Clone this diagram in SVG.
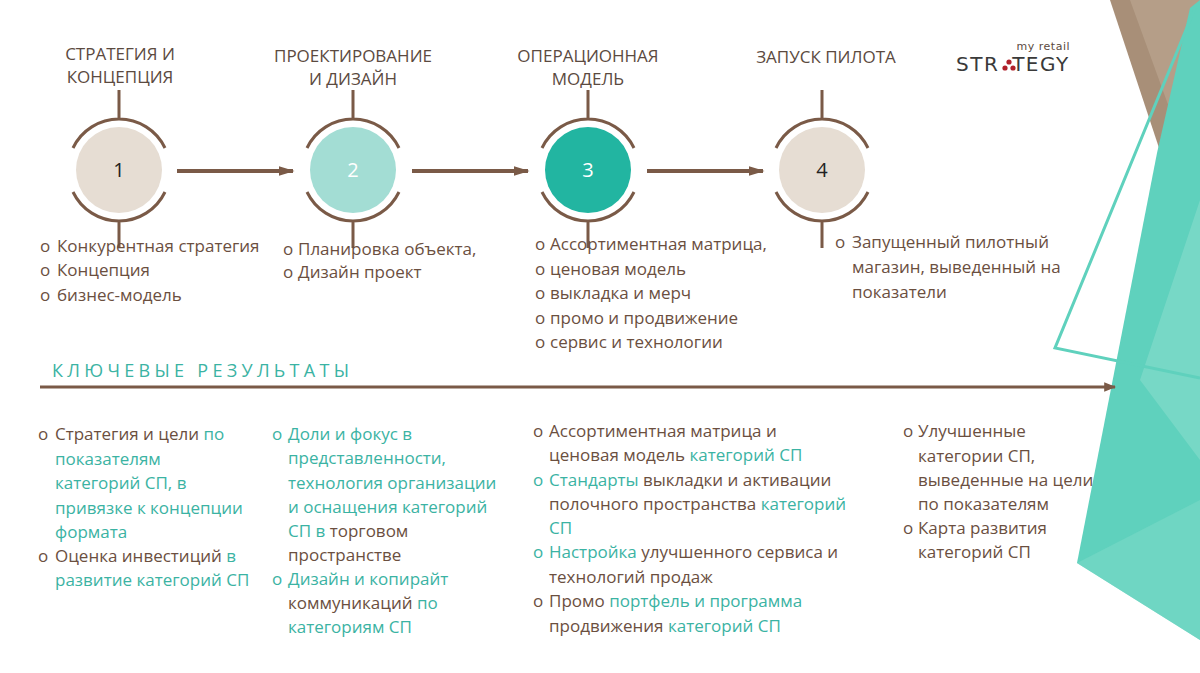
<svg xmlns="http://www.w3.org/2000/svg" width="1200" height="673" viewBox="0 0 1200 673">
<defs>
<style>
text{font-family:"Open Sans","Noto Sans",sans-serif;}
.h{font-size:17px;fill:#5b4a40;text-anchor:middle}
.b{font-size:17px;fill:#6b4f3f}
.t{fill:#3bb3a3}
.arc{fill:none;stroke:#7a5a47;stroke-width:3}
.conn{stroke:#7a5a47;stroke-width:4;fill:none}
</style>
<marker id="ah" viewBox="0 0 10 10" refX="9" refY="5" markerWidth="4" markerHeight="4" orient="auto"><path d="M0,2 L10,5 L0,8 Z" fill="#7a5a47"/></marker>
<marker id="ah2" viewBox="0 0 10 10" refX="9" refY="5" markerWidth="4" markerHeight="4" orient="auto"><path d="M0,1 L10,5 L0,9 Z" fill="#7a5a47"/></marker>
</defs>
<rect width="1200" height="673" fill="#fff"/>
<g id="decor">
<polygon points="1110,0 1200,0 1200,90 1163,160" fill="#a88f78"/>
<polygon points="1130,0 1200,0 1200,60 1170,110" fill="#c1ad98" opacity="0.5"/>
<polygon points="1190,8 1200,0 1200,640 1077,563 1157,153" fill="#5fd1bd"/>
<polygon points="1200,200 1140,380 1200,460" fill="#8fe0d0" opacity="0.5"/>
<polygon points="1077,563 1200,500 1200,640" fill="#7ad9c6" opacity="0.6"/>
<polyline points="1195,8 1055,348 1200,378" fill="none" stroke="#5fd1bd" stroke-width="3"/>
</g>
<g id="logo">
<text x="1070" y="50" font-size="11" fill="#5b4a40" text-anchor="end" letter-spacing="0.5" style="font-family:'DejaVu Sans',sans-serif">my retail</text>
<text x="956" y="71" font-size="20" fill="#3a3a3a" letter-spacing="1.5" style="font-family:'DejaVu Sans',sans-serif">STR<tspan fill="#fff">A</tspan>TEGY</text>
<circle cx="1009" cy="62" r="2.6" fill="#b0202a"/><circle cx="1005" cy="68" r="2.6" fill="#b0202a"/><circle cx="1013" cy="68" r="2.6" fill="#b0202a"/>
</g>
<g id="connectors">
<line class="conn" x1="177" y1="171" x2="293" y2="171" marker-end="url(#ah)"/>
<line class="conn" x1="412" y1="171" x2="528" y2="171" marker-end="url(#ah)"/>
<line class="conn" x1="647" y1="171" x2="763" y2="171" marker-end="url(#ah)"/>
<line x1="40" y1="387" x2="1115" y2="387" stroke="#7a5a47" stroke-width="3" marker-end="url(#ah2)"/>
</g>
<g id="node1">
<text class="h" x="120" y="60">СТРАТЕГИЯ  И</text><text class="h" x="120" y="83">КОНЦЕПЦИЯ</text>
<path class="arc" d="M119,90 V119 M73,148 A51,51 0 0 1 165,148 M73,192 A51,51 0 0 0 165,192 M119,221 V248"/>
<circle cx="119" cy="170" r="43" fill="#e6ddd3"/>
<text x="119" y="177" font-size="20" text-anchor="middle" fill="#222">1</text>
</g>
<g id="node2">
<text class="h" x="353" y="62">ПРОЕКТИРОВАНИЕ</text><text class="h" x="353" y="85">И ДИЗАЙН</text>
<path class="arc" d="M353,90 V119 M307,148 A51,51 0 0 1 399,148 M307,192 A51,51 0 0 0 399,192 M353,221 V248"/>
<circle cx="353" cy="170" r="43" fill="#a3ddd4"/>
<text x="353" y="177" font-size="20" text-anchor="middle" fill="#fff">2</text>
</g>
<g id="node3">
<text class="h" x="588" y="62">ОПЕРАЦИОННАЯ</text><text class="h" x="588" y="85">МОДЕЛЬ</text>
<path class="arc" d="M588,90 V119 M542,148 A51,51 0 0 1 634,148 M542,192 A51,51 0 0 0 634,192 M588,221 V248"/>
<circle cx="588" cy="170" r="43" fill="#22b5a1"/>
<text x="588" y="177" font-size="20" text-anchor="middle" fill="#fff">3</text>
</g>
<g id="node4">
<text class="h" x="826" y="63">ЗАПУСК ПИЛОТА</text>
<path class="arc" d="M822,90 V119 M776,148 A51,51 0 0 1 868,148 M776,192 A51,51 0 0 0 868,192 M822,221 V248"/>
<circle cx="822" cy="170" r="43" fill="#e6ddd3"/>
<text x="822" y="177" font-size="20" text-anchor="middle" fill="#222">4</text>
</g>
<g id="top-lists">
<text class="b" x="40" y="252">o <tspan x="57">Конкурентная стратегия</tspan></text>
<text class="b" x="40" y="276">o <tspan x="57">Концепция</tspan></text>
<text class="b" x="40" y="301">o <tspan x="57">бизнес-модель</tspan></text>
<text class="b" x="283" y="255">o <tspan x="298">Планировка объекта,</tspan></text>
<text class="b" x="283" y="278">o <tspan x="298">Дизайн проект</tspan></text>
<text class="b" x="535" y="250">o <tspan x="550">Ассортиментная матрица,</tspan></text>
<text class="b" x="535" y="275">o <tspan x="550">ценовая модель</tspan></text>
<text class="b" x="535" y="299">o <tspan x="550">выкладка и мерч</tspan></text>
<text class="b" x="535" y="324">o <tspan x="550">промо и продвижение</tspan></text>
<text class="b" x="535" y="348">o <tspan x="550">сервис и технологии</tspan></text>
<text class="b" x="835" y="248">o <tspan x="852">Запущенный пилотный</tspan></text>
<text class="b" x="852" y="273">магазин, выведенный на</text>
<text class="b" x="852" y="298">показатели</text>
</g>
<text x="52" y="377" font-size="18" letter-spacing="4.3" fill="#3bb3a3">КЛЮЧЕВЫЕ РЕЗУЛЬТАТЫ</text>
<g id="bottom-lists">
<text class="b" x="38" y="440">o <tspan x="55">Стратегия и цели <tspan class="t">по</tspan></tspan></text>
<text class="b t" x="55" y="465">показателям</text>
<text class="b t" x="55" y="489">категорий СП, в</text>
<text class="b t" x="55" y="514">привязке к концепции</text>
<text class="b t" x="55" y="538">формата</text>
<text class="b" x="38" y="562">o <tspan x="55">Оценка инвестиций <tspan class="t">в</tspan></tspan></text>
<text class="b t" x="55" y="586">развитие категорий СП</text>
<text class="b" x="272" y="440"><tspan class="t">o</tspan> <tspan x="288" class="t">Доли и фокус в</tspan></text>
<text class="b t" x="288" y="464">представленности,</text>
<text class="b t" x="288" y="489">технология организации</text>
<text class="b t" x="288" y="513">и оснащения категорий</text>
<text class="b" x="288" y="537"><tspan class="t">СП в</tspan> торговом</text>
<text class="b" x="288" y="561">пространстве</text>
<text class="b" x="272" y="585"><tspan class="t">o</tspan> <tspan x="288" class="t">Дизайн и копирайт</tspan></text>
<text class="b" x="288" y="609">коммуникаций <tspan class="t">по</tspan></text>
<text class="b t" x="288" y="633">категориям СП</text>
<text class="b" x="533" y="437">o <tspan x="549">Ассортиментная матрица и</tspan></text>
<text class="b" x="549" y="461">ценовая модель <tspan class="t">категорий СП</tspan></text>
<text class="b" x="533" y="486"><tspan class="t">o</tspan> <tspan x="549"><tspan class="t">Стандарты</tspan> выкладки и активации</tspan></text>
<text class="b" x="549" y="510">полочного пространства <tspan class="t">категорий</tspan></text>
<text class="b t" x="549" y="534">СП</text>
<text class="b" x="533" y="558"><tspan class="t">o</tspan> <tspan x="549"><tspan class="t">Настройка</tspan> улучшенного сервиса и</tspan></text>
<text class="b" x="549" y="583">технологий продаж</text>
<text class="b" x="533" y="607">o <tspan x="549">Промо <tspan class="t">портфель и программа</tspan></tspan></text>
<text class="b" x="549" y="632">продвижения <tspan class="t">категорий СП</tspan></text>
<text class="b" x="903" y="437">o <tspan x="918">Улучшенные</tspan></text>
<text class="b" x="918" y="462">категории СП,</text>
<text class="b" x="918" y="486">выведенные на цели</text>
<text class="b" x="918" y="510">по показателям</text>
<text class="b" x="903" y="534">o <tspan x="918">Карта развития</tspan></text>
<text class="b" x="918" y="558">категорий СП</text>
</g>
</svg>
